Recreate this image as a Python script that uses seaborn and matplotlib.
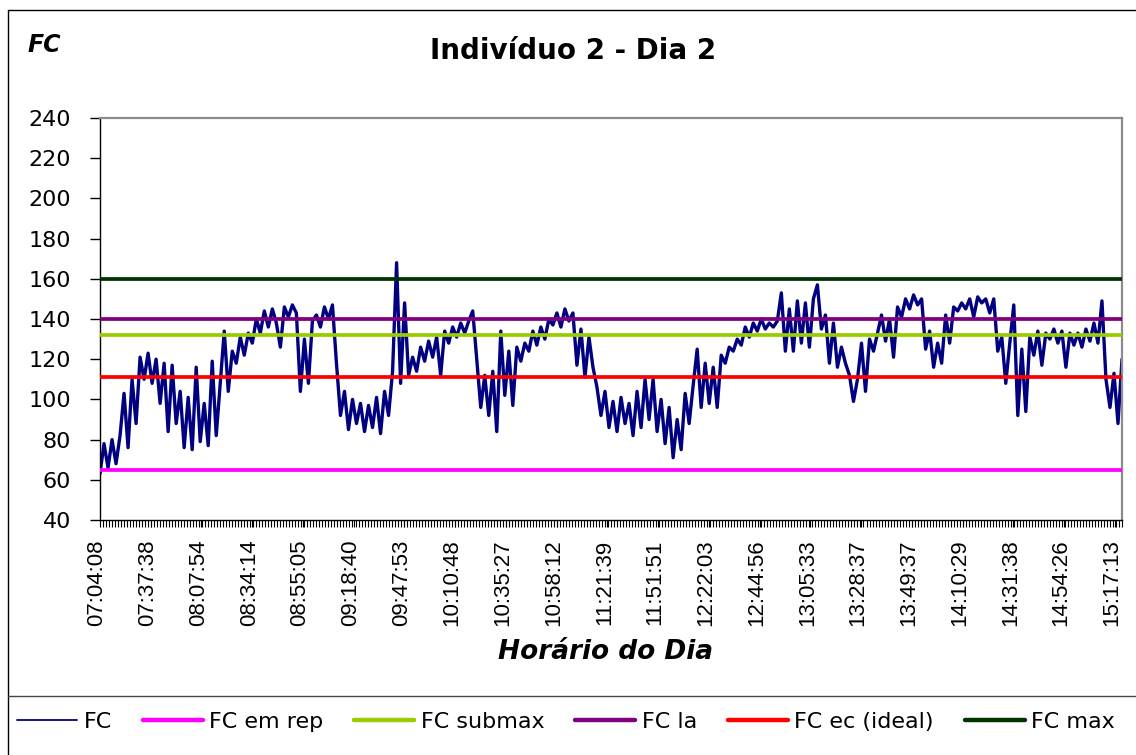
import numpy as np
import pandas as pd
import matplotlib
matplotlib.use("Agg")
import matplotlib.pyplot as plt
import matplotlib.transforms as mtransforms
import seaborn as sns
from matplotlib.lines import Line2D
from matplotlib.ticker import MultipleLocator

# ---------------- data ----------------
fc_0704 = [63, 78, 66, 80, 68, 82, 103, 76, 110, 88, 121, 110, 123, 108, 120,
           98, 118, 84, 117, 88, 104, 76, 101, 75, 116, 79]
fc_0810 = [98, 77, 119, 82, 108, 134, 104, 124, 118, 131, 122, 133, 128, 140,
           133, 144, 136, 145, 138, 126, 146, 141, 147, 143, 104]
fc_0900 = [130, 108, 139, 142, 136, 146, 140, 147, 118, 92, 104, 85, 100, 88,
           98, 84, 97, 86, 101, 83, 104, 92, 114, 168, 108]
fc_0950 = [148, 112, 121, 114, 126, 119, 129, 121, 131, 112, 134, 128, 136, 131,
           138, 133, 139, 144, 120, 96, 112, 92, 114, 84, 134]
fc_1040 = [102, 124, 97, 126, 119, 128, 124, 134, 127, 136, 130, 140, 137, 143,
           136, 145, 139, 143, 117, 135, 111, 131, 116, 106, 92]
fc_1125 = [104, 86, 99, 84, 101, 88, 98, 82, 104, 86, 110, 90, 110, 84, 100,
           78, 96, 71, 90, 75, 103, 88, 107, 125, 96]
fc_1215 = [118, 98, 116, 96, 122, 118, 126, 124, 130, 127, 136, 131, 138, 134,
           140, 135, 138, 136, 139, 153, 124, 145, 124, 149, 128]
fc_1300 = [148, 126, 150, 157, 135, 142, 118, 138, 116, 126, 118, 112, 99, 110,
           128, 104, 130, 124, 133, 142, 129, 140, 121, 146, 141]
fc_1345 = [150, 145, 152, 147, 150, 125, 134, 116, 128, 118, 142, 128, 146, 144,
           148, 145, 150, 141, 151, 148, 150, 143, 150, 124, 131]
fc_1430 = [108, 128, 147, 92, 125, 94, 131, 122, 134, 117, 133, 130, 135, 128,
           134, 116, 133, 127, 133, 126, 135, 129, 138, 128, 149, 110, 96, 113,
           88, 120]

fc = (fc_0704 + fc_0810 + fc_0900 + fc_0950 + fc_1040 + fc_1125 + fc_1215
      + fc_1300 + fc_1345 + fc_1430)

time_labels = ["07:04:08", "07:37:38", "08:07:54", "08:34:14", "08:55:05",
               "09:18:40", "09:47:53", "10:10:48", "10:35:27", "10:58:12",
               "11:21:39", "11:51:51", "12:22:03", "12:44:56", "13:05:33",
               "13:28:37", "13:49:37", "14:10:29", "14:31:38", "14:54:26",
               "15:17:13"]

ref_names = ["FC em rep", "FC submax", "FC la", "FC ec (ideal)", "FC max"]
ref_values = [65, 132, 140, 111, 160]

# ---------------- styles ----------------
fc_color = "#000080"
ref_colors = ["#FF00FF", "#99CC00", "#800080", "#FF0000", "#003300"]

sns.set_theme(style="white")
plt.rcParams.update({
    "font.family": ["DejaVu Sans"],
    "text.color": "black",
    "axes.labelcolor": "black",
    "xtick.color": "black",
    "ytick.color": "black",
})

W, H = 1136, 755
fig = plt.figure(figsize=(W / 100, H / 100), dpi=100, facecolor="white")
ax = fig.add_axes([100 / W, 1 - 520 / H, 1022 / W, 402 / H])

df = pd.DataFrame({"idx": np.arange(len(fc)), "FC": fc})
sns.lineplot(data=df, x="idx", y="FC", ax=ax, color=fc_color,
             linewidth=2.4, zorder=2, legend=False)

for val, col in zip(ref_values, ref_colors):
    ax.axhline(val, color=col, linewidth=2.7, zorder=3)

n = len(fc)
ax.set_xlim(0, n - 1)
ax.set_ylim(40, 240)
ax.set_yticks(range(40, 241, 20))
label_step = 12.66
ax.set_xticks(np.arange(len(time_labels)) * label_step)
ax.set_xticklabels(time_labels, rotation=90, fontfamily="Liberation Sans",
                   fontsize=16)
ax.xaxis.set_minor_locator(MultipleLocator(0.75))
ax.set_xlabel("")
ax.set_ylabel("")

ax.tick_params(axis="y", which="major", left=True, length=7, width=1,
               pad=14, labelsize=16, colors="black", direction="out")
ax.tick_params(axis="x", which="both", bottom=True, length=5, width=0.8,
               pad=9, colors="black", direction="out")

shift = mtransforms.ScaledTranslation(-3 / 100, 0, fig.dpi_scale_trans)
for lbl in ax.get_xticklabels():
    lbl.set_transform(lbl.get_transform() + shift)

for side in ["left", "bottom"]:
    ax.spines[side].set_color("black")
    ax.spines[side].set_linewidth(1.0)
for side in ["top", "right"]:
    ax.spines[side].set_color("#8c8c8c")
    ax.spines[side].set_linewidth(1.6)

# texts
fig.text(573 / W, 1 - 51 / H, "Indivíduo 2 - Dia 2", ha="center",
         va="center", fontsize=20, fontweight="bold", color="black")
fig.text(28 / W, 1 - 45 / H, "FC", ha="left", va="center", fontsize=17,
         fontweight="bold", fontstyle="italic", color="black")
fig.text(606 / W, 1 - 652 / H, "Horário do Dia", ha="center", va="center",
         fontsize=19, fontweight="bold", fontstyle="italic", color="black")

# outer frame and legend separator
x0 = 8 / W
fig.add_artist(Line2D([x0, x0], [0, 1 - 10 / H], transform=fig.transFigure,
                      color="black", linewidth=1.0))
fig.add_artist(Line2D([x0, 1], [1 - 10 / H, 1 - 10 / H],
                      transform=fig.transFigure, color="black", linewidth=1.0))
fig.add_artist(Line2D([x0, 1], [1 - 696 / H, 1 - 696 / H],
                      transform=fig.transFigure, color="#444444",
                      linewidth=1.0))

handles = [Line2D([], [], color=fc_color, linewidth=1.3, label="FC")]
for name, col in zip(ref_names, ref_colors):
    handles.append(Line2D([], [], color=col, linewidth=3.2,
                          solid_capstyle="round", label=name))
leg = fig.legend(handles=handles, loc="center left",
                 bbox_to_anchor=(17 / W, 1 - 722 / H), ncol=6, frameon=False,
                 fontsize=16, handlelength=2.7, handletextpad=0.3,
                 columnspacing=1.38, borderaxespad=0, borderpad=0)
for t in leg.get_texts():
    t.set_color("black")

fig.savefig("out.png", dpi=100, facecolor="white")
